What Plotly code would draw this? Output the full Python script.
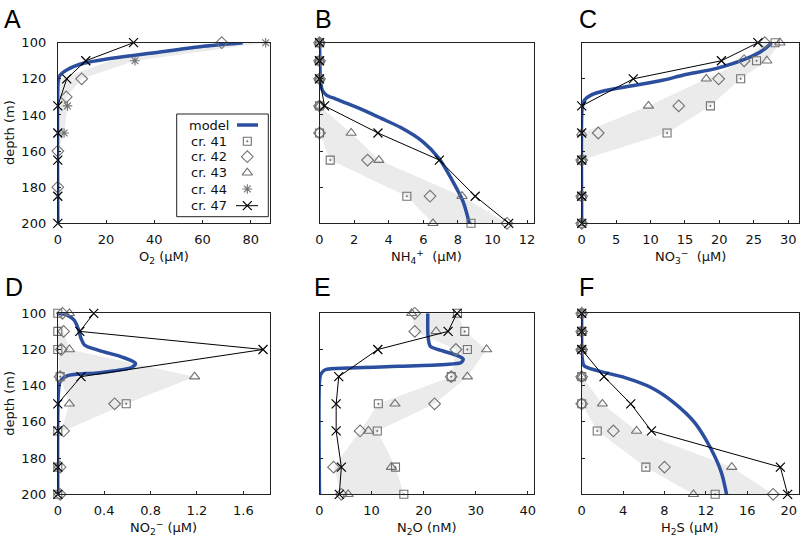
import plotly.graph_objects as go

W, H = 802, 540

# ---------------- data ----------------
obs_depth = [100, 110, 120, 135, 150, 165, 185, 200]
top_depth = [100, 110, 120]

# A: O2 (uM)
o2_c42_depth = [100, 120, 130, 160, 180]
o2_c42 = [68, 9.9, 3.5, 0, 0]
o2_c44_depth = [100, 110, 135, 150]
o2_c44 = [86.2, 32, 4.0, 2.6]
o2_c47 = [31.4, 11.6, 3.7, 0, 0, 0, 0, 0]
o2_band_depth = [100, 110, 120, 130, 135, 150, 160]
o2_band_lo = [68, 22, 1, 0, 0, 0, 0]
o2_band_hi = [86.2, 32, 9.9, 3.5, 4.0, 2.6, 0]
o2_model_depth = [100, 102.2, 105.9, 108.7, 111.4, 115.1, 117.9, 120.1, 125, 200]
o2_model = [76.7, 59, 38.3, 21.7, 10.6, 3.7, 1.0, 0.3, 0, 0]

# B: NH4+ (uM)
nh4_c41 = [0, 0, 0, 0, 0, 0.62, 5.05, 8.76]
nh4_c42 = [0, 0, 0, 0, 0, 2.78, 6.39, 10.84]
nh4_c43 = [0, 0, 0, 0, 1.83, 3.43, 8.24, 6.56]
nh4_c44 = [0, 0, 0]
nh4_c47 = [0, 0, 0, 0.29, 3.38, 6.93, 9.0, 10.94]
nh4_band_depth = [135, 150, 165, 185, 200]
nh4_band_lo = [0, 0, 0.62, 5.05, 6.56]
nh4_band_hi = [0, 1.83, 3.43, 8.24, 10.84]
nh4_model_depth = [100, 110, 120, 126, 129, 131, 134, 138, 142, 147, 155, 164, 175, 188, 200]
nh4_model = [0, 0.02, 0.05, 0.15, 0.4, 0.9, 1.7, 2.7, 3.6, 4.7, 6.0, 6.9, 7.6, 8.3, 8.66]

# C: NO3- (uM)
no3_c41 = [28.1, 25.4, 23.1, 18.7, 12.4, 0, 0, 0]
no3_c42 = [26.6, 23.6, 19.9, 14.1, 2.4, 0, 0, 0]
no3_c43 = [28.8, 26.9, 18.1, 9.7, 0, 0, 0, 0]
no3_c47 = [25.6, 20.3, 7.5, 0, 0, 0, 0, 0]
no3_band_depth = [100, 110, 120, 135, 150, 165]
no3_band_lo = [26.6, 23.6, 18.1, 9.7, 0, 0]
no3_band_hi = [28.8, 26.9, 23.1, 18.7, 12.4, 0]
no3_model_depth = [100, 104, 108.7, 114.2, 117.9, 120.7, 124, 126.6, 129, 131.7, 135.4, 140, 200]
no3_model = [27.6, 26.4, 24.0, 19.6, 14.8, 11.9, 7.1, 3.3, 1.35, 0.4, 0.1, 0, 0]

# D: NO2- (uM)
no2_c41 = [0, 0, 0, 0.02, 0.59, 0, 0, 0]
no2_c42 = [0.04, 0.05, 0.03, 0.02, 0.49, 0.05, 0.02, 0.02]
no2_c43_depth = [100, 120, 135, 150]
no2_c43 = [0.1, 0.1, 1.18, 0.1]
no2_c47 = [0.31, 0.19, 1.77, 0.2, 0, 0, 0, 0]
no2_band_depth = [105, 110, 120, 135, 150, 165]
no2_band_lo = [0, 0, 0, 0.02, 0.1, 0.03]
no2_band_hi = [0, 0.05, 0.1, 1.18, 0.59, 0.05]
no2_model_depth = [100, 101, 103.7, 109.2, 113.8, 117.5, 120.6, 124.3, 127.6, 129.8, 132.8, 134.6, 137.8, 144, 200]
no2_model = [0, 0.08, 0.14, 0.18, 0.2, 0.23, 0.36, 0.56, 0.67, 0.64, 0.36, 0.08, 0.02, 0.005, 0]

# E: N2O (nM)
n2o_c41 = [26.5, 27.9, 28.4, 25.3, 11.3, 11.1, 14.6, 16.2]
n2o_c42 = [18.3, 18.3, 26.2, 25.3, 22.1, 7.8, 2.7, 4.2]
n2o_c43 = [17.7, 22.4, 32.1, 28.4, 14.5, 9.4, 13.8, 5.5]
n2o_c47 = [26.4, 24.7, 11.2, 3.7, 3.2, 3.2, 4.2, 3.8]
n2o_band_lo = [17.7, 18.3, 26.2, 25.3, 11.3, 7.8, 2.7, 4.2]
n2o_band_hi = [26.5, 27.9, 32.1, 28.4, 22.1, 11.1, 14.6, 16.2]
n2o_model_depth = [100, 110, 114, 118.3, 120.7, 123.4, 125.3, 127.2, 128.3, 129.3, 130.2, 131.2, 133.6, 138, 200]
n2o_model = [20.8, 20.8, 20.9, 21.3, 23.6, 26.5, 27.6, 27.2, 24, 15.2, 5.6, 1.1, 0.25, 0, 0]

# F: H2S (uM)
h2s_c41 = [0, 0, 0, 0, 0, 1.5, 6.2, 12.9]
h2s_c42 = [0, 0, 0, 0, 0, 3.06, 8.0, 18.5]
h2s_c43 = [0, 0, 0, 0, 2.0, 5.3, 14.5, 10.8]
h2s_c44 = [0, 0, 0]
h2s_c47 = [0, 0, 0, 2.16, 4.74, 6.74, 19.2, 19.9]
h2s_band_depth = [135, 150, 165, 185, 200]
h2s_band_lo = [0, 0, 1.5, 6.2, 10.8]
h2s_band_hi = [0, 2.0, 5.3, 14.5, 18.5]
h2s_model_depth = [100, 120, 125, 129, 131.7, 135.4, 141, 149.3, 160.3, 175, 188, 200]
h2s_model = [0, 0, 0.05, 0.23, 1.5, 4.1, 6.7, 8.9, 10.9, 12.5, 13.5, 14.0]

panel_letters = ["A", "B", "C", "D", "E", "F"]
x_titles = ["O<sub>2</sub> (μM)", "NH<sub>4</sub><sup>+</sup>  (μM)", "NO<sub>3</sub><sup>−</sup>  (μM)",
            "NO<sub>2</sub><sup>−</sup> (μM)", "N<sub>2</sub>O (nM)", "H<sub>2</sub>S (μM)"]
x_ticks = [[0, 20, 40, 60, 80], [0, 2, 4, 6, 8, 10, 12], [0, 5, 10, 15, 20, 25, 30],
           [0, 0.4, 0.8, 1.2, 1.6], [0, 10, 20, 30, 40], [0, 4, 8, 12, 16, 20]]
x_ranges = [[0, 88], [0, 12.4], [0, 31.5], [0, 1.83], [0, 41.2], [0, 20.95]]
y_ticks = [100, 120, 140, 160, 180, 200]
legend_labels = ["model", "cr. 41", "cr. 42", "cr. 43", "cr. 44", "cr. 47"]

# ---------------- style ----------------
BLUE = "#2b4f9e"
GRAY = "#727272"
BAND = "#ebebeb"
FONT = "DejaVu Sans"

# panel plot areas in pixels: (left, right, top, bottom)
px_boxes = [
    (57.8, 270, 42.7, 223.3), (319.5, 534, 42.7, 223.3), (581.7, 798.5, 42.7, 223.3),
    (57.8, 270, 313.3, 494.3), (319.5, 534, 313.3, 494.3), (581.7, 798.5, 313.3, 494.3),
]
letter_px = [(2, 19), (313, 19), (577, 19), (3, 287), (312, 287), (577, 287)]

sym = {
    "c41": dict(symbol="square-open-dot", size=8, color=GRAY, line=dict(width=1.1, color=GRAY)),
    "c42": dict(symbol="diamond-open", size=9, color=GRAY, line=dict(width=1.1, color=GRAY)),
    "c43": dict(symbol="triangle-up-open", size=9, color=GRAY, line=dict(width=1.1, color=GRAY)),
    "c44": dict(symbol="asterisk-open", size=8, color=GRAY, line=dict(width=1.1, color=GRAY)),
    "c47": dict(symbol="x-thin-open", size=9, color="black", line=dict(width=1.2, color="black")),
}

fig = go.Figure()


def ax(i):
    return ("x" if i == 0 else f"x{i+1}"), ("y" if i == 0 else f"y{i+1}")


def add_band(i, d, lo, hi):
    xa, ya = ax(i)
    fig.add_trace(go.Scatter(x=list(lo) + list(hi)[::-1], y=list(d) + list(d)[::-1],
                             fill="toself", fillcolor=BAND, line=dict(width=0),
                             mode="lines", hoverinfo="skip", xaxis=xa, yaxis=ya))


def add_model(i, d, v):
    xa, ya = ax(i)
    fig.add_trace(go.Scatter(x=v, y=d, mode="lines", line=dict(color=BLUE, width=3.5, shape="spline", smoothing=0.8),
                             xaxis=xa, yaxis=ya))


def add_pts(i, key, d, v):
    xa, ya = ax(i)
    if key == "c47":
        fig.add_trace(go.Scatter(x=v, y=d, mode="lines+markers", marker=sym[key],
                                 line=dict(color="black", width=1), cliponaxis=False, xaxis=xa, yaxis=ya))
    else:
        fig.add_trace(go.Scatter(x=v, y=d, mode="markers", marker=sym[key], cliponaxis=False,
                                 xaxis=xa, yaxis=ya))


# A
add_band(0, o2_band_depth, o2_band_lo, o2_band_hi)
add_model(0, o2_model_depth, o2_model)
add_pts(0, "c42", o2_c42_depth, o2_c42)
add_pts(0, "c44", o2_c44_depth, o2_c44)
add_pts(0, "c47", obs_depth, o2_c47)
# B
add_band(1, nh4_band_depth, nh4_band_lo, nh4_band_hi)
add_model(1, nh4_model_depth, nh4_model)
add_pts(1, "c41", obs_depth, nh4_c41)
add_pts(1, "c42", obs_depth, nh4_c42)
add_pts(1, "c43", obs_depth, nh4_c43)
add_pts(1, "c44", top_depth, nh4_c44)
add_pts(1, "c47", obs_depth, nh4_c47)
# C
add_band(2, no3_band_depth, no3_band_lo, no3_band_hi)
add_model(2, no3_model_depth, no3_model)
add_pts(2, "c41", obs_depth, no3_c41)
add_pts(2, "c42", obs_depth, no3_c42)
add_pts(2, "c43", obs_depth, no3_c43)
add_pts(2, "c47", obs_depth, no3_c47)
# D
add_band(3, no2_band_depth, no2_band_lo, no2_band_hi)
add_model(3, no2_model_depth, no2_model)
add_pts(3, "c41", obs_depth, no2_c41)
add_pts(3, "c42", obs_depth, no2_c42)
add_pts(3, "c43", no2_c43_depth, no2_c43)
add_pts(3, "c47", obs_depth, no2_c47)
# E
add_band(4, obs_depth, n2o_band_lo, n2o_band_hi)
add_model(4, n2o_model_depth, n2o_model)
add_pts(4, "c41", obs_depth, n2o_c41)
add_pts(4, "c42", obs_depth, n2o_c42)
add_pts(4, "c43", obs_depth, n2o_c43)
add_pts(4, "c47", obs_depth, n2o_c47)
# F
add_band(5, h2s_band_depth, h2s_band_lo, h2s_band_hi)
add_model(5, h2s_model_depth, h2s_model)
add_pts(5, "c41", obs_depth, h2s_c41)
add_pts(5, "c42", obs_depth, h2s_c42)
add_pts(5, "c43", obs_depth, h2s_c43)
add_pts(5, "c44", top_depth, h2s_c44)
add_pts(5, "c47", obs_depth, h2s_c47)

layout = dict(width=W, height=H, margin=dict(l=0, r=0, t=0, b=0, pad=0, autoexpand=False), showlegend=False,
              paper_bgcolor="white", plot_bgcolor="rgba(0,0,0,0)", hovermode=False,
              font=dict(family=FONT, size=13, color="#111"))
annotations = []
for i in range(6):
    l, r, t, b = px_boxes[i]
    sx = "xaxis" if i == 0 else f"xaxis{i+1}"
    sy = "yaxis" if i == 0 else f"yaxis{i+1}"
    xa, ya = ax(i)
    layout[sx] = dict(domain=[l / W, r / W], range=x_ranges[i], tickvals=x_ticks[i],
                      ticks="inside", ticklen=3, tickcolor="#222", showline=True, linecolor="#222",
                      linewidth=1, mirror=True, showgrid=False, zeroline=False, anchor=ya,
                      tickfont=dict(family=FONT, size=13, color="#111"), ticklabelstandoff=4)
    layout[sy] = dict(domain=[1 - b / H, 1 - t / H], range=[200, 100], tickvals=y_ticks,
                      ticks="inside", ticklen=3, tickcolor="#222", showline=True, linecolor="#222",
                      linewidth=1, mirror=True, showgrid=False, zeroline=False, anchor=xa,
                      showticklabels=(i % 3 == 0),
                      tickfont=dict(family=FONT, size=13, color="#111"), ticklabelstandoff=8)
    annotations.append(dict(text=x_titles[i], xref="paper", yref="paper", x=(l + r) / 2 / W,
                            y=1 - (b + 34) / H, xanchor="center", yanchor="middle", showarrow=False,
                            font=dict(family=FONT, size=13, color="#111")))
    lx, ly = letter_px[i]
    annotations.append(dict(text=panel_letters[i], xref="paper", yref="paper",
                            x=lx / W, y=1 - ly / H, xanchor="left", yanchor="middle",
                            showarrow=False, font=dict(family="Liberation Sans", size=25, color="black")))
    if i % 3 == 0:
        annotations.append(dict(text="depth (m)", xref="paper", yref="paper", x=10 / W,
                                y=1 - (t + b) / 2 / H, xanchor="center", yanchor="middle", textangle=-90,
                                showarrow=False, font=dict(family=FONT, size=13, color="#111")))

# manual legend in panel A (text left, key right)
leg_rows = [125, 141.3, 156.7, 172.7, 189, 205.7]
leg_text_x = 209.3
leg_key_x = 247.3
for lab, ry in zip(legend_labels, leg_rows):
    annotations.append(dict(text=lab, xref="paper", yref="paper", x=leg_text_x / W, y=1 - ry / H,
                            xanchor="center", yanchor="middle", showarrow=False,
                            font=dict(family=FONT, size=13, color="#111")))
layout["xaxis7"] = dict(domain=[0, 1], range=[0, W], visible=False, fixedrange=True, anchor="y7")
layout["yaxis7"] = dict(domain=[0, 1], range=[H, 0], visible=False, fixedrange=True, anchor="x7")
fig.add_trace(go.Scatter(x=[237, 258], y=[leg_rows[0]] * 2, mode="lines", line=dict(color=BLUE, width=3.5),
                         xaxis="x7", yaxis="y7"))
fig.add_trace(go.Scatter(x=[236, 258], y=[leg_rows[5]] * 2, mode="lines",
                         line=dict(color="black", width=1), xaxis="x7", yaxis="y7"))
for key, ry in zip(["c41", "c42", "c43", "c44", "c47"], leg_rows[1:]):
    fig.add_trace(go.Scatter(x=[leg_key_x], y=[ry], mode="markers", marker=sym[key], xaxis="x7", yaxis="y7"))
layout["shapes"] = [
    dict(type="rect", xref="paper", yref="paper", x0=176.7 / W, x1=268.3 / W,
         y0=1 - 216.7 / H, y1=1 - 114 / H, line=dict(color="#222", width=1),
         fillcolor="white", layer="below"),
]
layout["annotations"] = annotations
fig.update_layout(**layout)

# remove the browser's default 8px page margin so the 802x540 figure fills the window exactly;
# static plot: no modebar / hover overlays in the photograph
fig.write_html("out.html", config={"staticPlot": True, "displayModeBar": False},
               post_script="document.body.style.margin='0';document.body.style.overflow='hidden';")
